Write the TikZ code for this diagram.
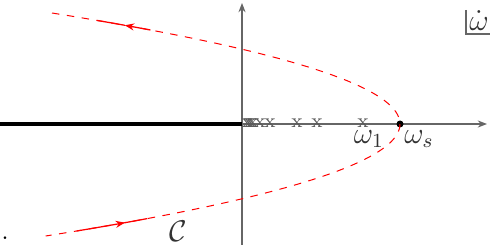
\documentclass[tikz,border=0pt]{standalone}
\usepackage{amsmath,amssymb}
\usetikzlibrary{arrows.meta}
\usepackage{xcolor}

\begin{document}
\begin{tikzpicture}[>={Stealth[length=1.3mm,width=1mm]},x=0.4pt,y=-0.4pt,
  axis/.style={draw=black!60,line width=0.5pt},
  contour/.style={red,dashed,line width=0.4pt},
  xmark/.style={text=black!65,inner sep=0pt,font=\footnotesize},
  lbl/.style={inner sep=1pt,font=\large,text=black!80}]
\useasboundingbox (0,0) rectangle (491,245);
% axes
\coordinate (o) at (242,124);
\coordinate (left) at (0,124);
\coordinate (right) at (487,124);
\coordinate (bot) at (242,245);
\coordinate (top) at (242,3);
\draw[axis,->] (bot) -- (top);
\draw[axis,->] (o) -- (right);
\draw[line width=1.6pt] (left) -- (o);
% poles
\foreach \p in {247,249,251,253,260,270,297,317,363}
  \node[xmark] at (\p,123) {x};
\node (ws) [circle,fill=black,inner sep=0pt,minimum size=2.8pt] at (400,124) {};
% contour C
\draw[contour] plot[domain=-111:112,samples=80] ({400-0.02824*\x*\x},{124+\x});
\draw[red,->,line width=0.5pt] plot[domain=-94:-98.7,samples=6] ({400-0.02824*\x*\x},{124+\x});
\draw[red,line width=0.5pt] plot[domain=-98.7:-103.6,samples=6] ({400-0.02824*\x*\x},{124+\x});
\draw[red,->,line width=0.5pt] plot[domain=107:98.7,samples=6] ({400-0.02824*\x*\x},{124+\x});
\draw[red,line width=0.5pt] plot[domain=98.7:94.6,samples=6] ({400-0.02824*\x*\x},{124+\x});
\node (w1) [lbl] at (369,139) {$\omega_1$};
\node (wslbl) [lbl] at (419,139) {$\omega_s$};
\node (C) [lbl] at (178,231) {$\mathcal{C}$};
% plane label
\coordinate (b1) at (466,10);
\coordinate (b2) at (466,34);
\coordinate (b3) at (490,34);
\draw[black!60,line width=0.5pt] (b1) -- (b2) -- (b3);
\node (plane) [lbl] at (479,21) {$\dot\omega$};
\node (dot) [inner sep=0pt] at (5,238) {.};
\end{tikzpicture}
\end{document}
